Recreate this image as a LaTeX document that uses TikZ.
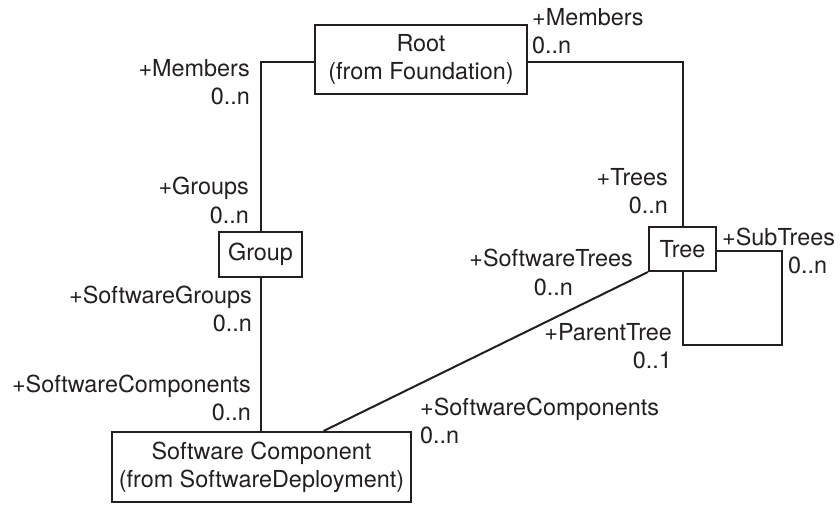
\documentclass[tikz,border=0pt]{standalone}
\usepackage{fontspec}
\setmainfont{TeX Gyre Heros}
\usetikzlibrary{calc}
\definecolor{ink}{HTML}{231F20}
\tikzset{
  umlclass/.style={draw=ink, line width=2pt, inner sep=0pt, align=center,
    text=ink, font=\fontsize{23.4}{28}\selectfont},
  lbl/.style={inner sep=0pt, text=ink, font=\fontsize{23.4}{28}\selectfont},
  assoc/.style={draw=ink, line width=2pt}
}
\begin{document}
\begin{tikzpicture}[x=1pt,y=-1pt]
\useasboundingbox (0,0) rectangle (840,504);

% classes
\node[umlclass, minimum width=212pt, minimum height=69pt] (Root) at (421,59.5)
  {Root\\(from Foundation)};
\node[umlclass, minimum width=83pt, minimum height=45pt] (Group) at (260.5,254.5) {Group};
\node[umlclass, minimum width=67pt, minimum height=44pt] (Tree) at (682.5,249) {Tree};
\node[umlclass, minimum width=299pt, minimum height=70pt] (SC) at (261.5,467)
  {Software Component\\(from SoftwareDeployment)};

% associations
\draw[assoc] ([yshift=-2.5pt]Root.west) -| (Group.north);
\draw[assoc] ([yshift=-2.5pt]Root.east) -| (Tree.north);
\draw[assoc] (Group.south) -- (Group.south |- SC.north);
\coordinate (scjoin) at ($(SC.north west)!0.706!(SC.north east)$);
\draw[assoc] (Tree.south west) -- (scjoin);
\coordinate (loopcorner) at (782,345);
\draw[assoc] ([yshift=-2pt]Tree.east) -| (loopcorner) -| (Tree.south);

% role names and multiplicities
\node[lbl, anchor=base east] (l1) at (250,76) {+Members};
\node[lbl, anchor=base east] (l2) at (250,104) {0..n};
\node[lbl, anchor=base east] (l3) at (249,194) {+Groups};
\node[lbl, anchor=base east] (l4) at (249,223) {0..n};
\node[lbl, anchor=base west] (l5) at (532,25) {+Members};
\node[lbl, anchor=base west] (l6) at (532,53) {0..n};
\node[lbl, anchor=base east] (l7) at (668,185) {+Trees};
\node[lbl, anchor=base east] (l8) at (668,213) {0..n};
\node[lbl, anchor=base west] (l9) at (722,245) {+SubTrees};
\node[lbl, anchor=base west] (l10) at (788,273) {0..n};
\node[lbl, anchor=base east] (l11) at (633,266) {+SoftwareTrees};
\node[lbl, anchor=base east] (l12) at (573,295) {0..n};
\node[lbl, anchor=base east] (l13) at (672,340) {+ParentTree};
\node[lbl, anchor=base east] (l14) at (672,368) {0..1};
\node[lbl, anchor=base west] (l15) at (420,415) {+SoftwareComponents};
\node[lbl, anchor=base west] (l16) at (420,443) {0..n};
\node[lbl, anchor=base east] (l17) at (252,303) {+SoftwareGroups};
\node[lbl, anchor=base east] (l18) at (252,331) {0..n};
\node[lbl, anchor=base east] (l19) at (251,392) {+SoftwareComponents};
\node[lbl, anchor=base east] (l20) at (251,420) {0..n};
\end{tikzpicture}
\end{document}
